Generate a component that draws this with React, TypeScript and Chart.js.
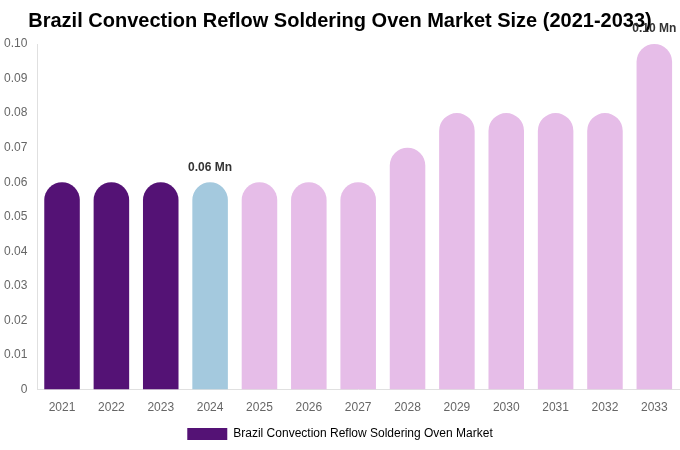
import React, { useEffect, useRef } from "react";
import { Chart, registerables } from "chart.js";

Chart.register(...registerables);

const years = ["2021","2022","2023","2024","2025","2026","2027","2028","2029","2030","2031","2032","2033"];
const values = [0.06, 0.06, 0.06, 0.06, 0.06, 0.06, 0.06, 0.07, 0.08, 0.08, 0.08, 0.08, 0.10];
const barColors = ["#541275","#541275","#541275","#a4c9de","#e6bde8","#e6bde8","#e6bde8","#e6bde8","#e6bde8","#e6bde8","#e6bde8","#e6bde8","#e6bde8"];
const labelIndices = [3, 12];
const seriesName = "Brazil Convection Reflow Soldering Oven Market";
const titleText = "Brazil Convection Reflow Soldering Oven Market Size (2021-2033)";

const valueLabelPlugin = {
  id: "valueLabels",
  afterDatasetsDraw(chart: any) {
    const ctx = chart.ctx;
    const meta = chart.getDatasetMeta(0);
    ctx.save();
    ctx.font = "bold 12px 'Liberation Sans', Arial, sans-serif";
    ctx.fillStyle = "#333333";
    ctx.textAlign = "center";
    ctx.textBaseline = "bottom";
    labelIndices.forEach((i) => {
      const el = meta.data[i];
      if (!el) return;
      ctx.fillText(values[i].toFixed(2) + " Mn", el.x, el.y - 9);
    });
    ctx.restore();
  },
};

export default function App() {
  const ref = useRef<HTMLCanvasElement | null>(null);
  useEffect(() => {
    document.body.style.margin = "0";
    if (!ref.current) return;
    const chart = new Chart(ref.current, {
      type: "bar",
      data: {
        labels: years,
        datasets: [
          {
            label: seriesName,
            data: values,
            backgroundColor: barColors,
            borderWidth: 0,
            borderRadius: { topLeft: 100, topRight: 100, bottomLeft: 0, bottomRight: 0 },
            borderSkipped: false,
          },
        ],
      },
      options: {
        animation: false,
        responsive: false,
        maintainAspectRatio: false,
        layout: { padding: { left: 1, right: 1, top: 0, bottom: 0 } },
        plugins: {
          title: {
            display: true,
            text: titleText,
            color: "#000000",
            font: { family: "'Liberation Sans', Arial, sans-serif", size: 20, weight: "bold" },
            padding: { top: 9, bottom: 11 },
          },
          legend: {
            display: true,
            position: "bottom",
            labels: {
              color: "#666666",
              font: { family: "'Liberation Sans', Arial, sans-serif", size: 12 },
              boxWidth: 40,
              boxHeight: 12,
              generateLabels: () => [
                { text: seriesName, fillStyle: "#541275", strokeStyle: "#541275", lineWidth: 0, hidden: false, datasetIndex: 0 },
              ],
            },
          },
          tooltip: { enabled: false },
        },
        scales: {
          x: {
            grid: { display: false },
            border: { display: true, color: "#e0e0e0" },
            ticks: { color: "#666666", font: { family: "'Liberation Sans', Arial, sans-serif", size: 12 }, padding: 3 },
          },
          y: {
            min: 0,
            max: 0.1,
            grid: { display: false, tickLength: 7 },
            border: { display: true, color: "#e0e0e0" },
            ticks: {
              stepSize: 0.01,
              color: "#666666",
              padding: 3,
              font: { family: "'Liberation Sans', Arial, sans-serif", size: 12 },
              callback: (v: any) => (Number(v) === 0 ? "0" : Number(v).toFixed(2)),
            },
          },
        },
      },
      plugins: [valueLabelPlugin],
    } as any);
    return () => chart.destroy();
  }, []);
  return (
    <div style={{ position: "absolute", left: 0, top: 0, width: 680, height: 450 }}>
      <canvas ref={ref} width={680} height={450} style={{ width: 680, height: 450 }} />
    </div>
  );
}
